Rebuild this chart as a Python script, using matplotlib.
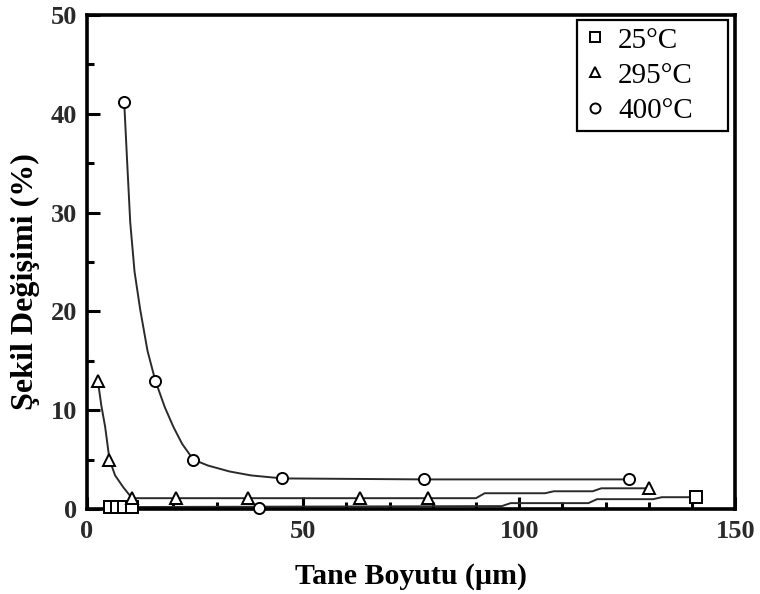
import numpy as np
import matplotlib.pyplot as plt
from matplotlib.ticker import MultipleLocator

# Ölçülen noktalar (tane boyutu µm, şekil değişimi %)
boyut_25 = [5.3, 7.0, 8.5, 10.5, 141]
degisim_25 = [0.2, 0.2, 0.2, 0.2, 1.2]

boyut_295 = [2.5, 5.2, 10.4, 20.5, 37.3, 63.2, 79.0, 130]
degisim_295 = [13.0, 5.0, 1.1, 1.1, 1.1, 1.1, 1.1, 2.1]

boyut_400 = [8.6, 15.8, 24.6, 45.2, 78.0, 125.3]
degisim_400 = [41.2, 13.0, 5.0, 3.1, 3.0, 3.0]
boyut_400_ek = [39.9]
degisim_400_ek = [0.1]

# Elle çizilmiş eğrilerin izlenen noktaları
egri_25_x = [5.3, 96, 98, 116, 118, 131, 133, 141]
egri_25_y = [0.2, 0.3, 0.6, 0.6, 1.0, 1.0, 1.2, 1.2]

egri_295_x = [2.5, 3.3, 4.2, 5.2, 6.5, 8.4, 10.4, 90, 92, 106, 108, 117, 119, 130]
egri_295_y = [13.0, 10.5, 8.3, 5.0, 3.4, 2.2, 1.1, 1.1, 1.6, 1.6, 1.8, 1.8, 2.1, 2.1]

egri_400_x = [8.6, 9.3, 10.0, 11.0, 12.3, 14.0, 15.8, 18.0, 20.0, 22.0, 24.6,
              28.0, 33.0, 38.0, 45.2, 78.0, 125.3]
egri_400_y = [41.2, 35.0, 29.0, 24.0, 20.2, 16.0, 13.0, 10.3, 8.3, 6.6, 5.0,
              4.4, 3.8, 3.4, 3.1, 3.0, 3.0]

etiketler = ['25°C', '295°C', '400°C']

fig = plt.figure(figsize=(7.6, 5.94), dpi=100)
ax = fig.add_axes([0.1145, 0.143, 0.853, 0.832])

cizgi = dict(color='#2a2a2a', lw=1.4, zorder=2)
ax.plot(egri_25_x, egri_25_y, **cizgi)
ax.plot(egri_295_x, egri_295_y, **cizgi)
ax.plot(egri_400_x, egri_400_y, **cizgi)

isaret = dict(ls='none', mfc='white', mec='black', mew=1.4, ms=8, zorder=3, clip_on=False)
ax.plot(boyut_25, degisim_25, marker='s', label=etiketler[0], **isaret)
ax.plot(boyut_295, degisim_295, marker='^', label=etiketler[1], **isaret)
ax.plot(boyut_400, degisim_400, marker='o', label=etiketler[2], **isaret)
ax.plot(boyut_400_ek, degisim_400_ek, marker='o', **isaret)

ax.set_xlim(0, 150)
ax.set_ylim(0, 50)
ax.xaxis.set_major_locator(MultipleLocator(50))
ax.xaxis.set_minor_locator(MultipleLocator(10))
ax.yaxis.set_major_locator(MultipleLocator(10))
ax.yaxis.set_minor_locator(MultipleLocator(5))
ax.tick_params(which='both', direction='in', width=2.2, color='black',
               labelsize=19, labelcolor='#2a2a2a')
ax.tick_params(axis='x', pad=8)
ax.tick_params(axis='y', pad=7)
ax.tick_params(which='major', length=9)
ax.tick_params(which='minor', length=5)
for t in ax.get_xticklabels() + ax.get_yticklabels():
    t.set_family('Liberation Serif')
    t.set_weight('bold')

for s in ax.spines.values():
    s.set_linewidth(2.6)

ax.set_xlabel('Tane Boyutu (µm)', family='Liberation Serif', weight='bold',
              fontsize=21.5, labelpad=14)
ax.set_ylabel('Şekil Değişimi (%)', family='Liberation Serif', weight='bold',
              fontsize=23)
ax.yaxis.set_label_coords(-0.073, 0.46)

leg = ax.legend(loc='upper left', bbox_to_anchor=(0.756, 0.0, 0.233, 0.99),
                mode='expand', frameon=True,
                fancybox=False, edgecolor='black', framealpha=1,
                prop={'family': 'Liberation Serif', 'size': 21},
                handlelength=0.7, handletextpad=0.45, labelspacing=0.3,
                borderpad=0.25, borderaxespad=0, markerscale=0.9)
leg.get_frame().set_linewidth(1.6)

fig.savefig('out.png', dpi=100)
